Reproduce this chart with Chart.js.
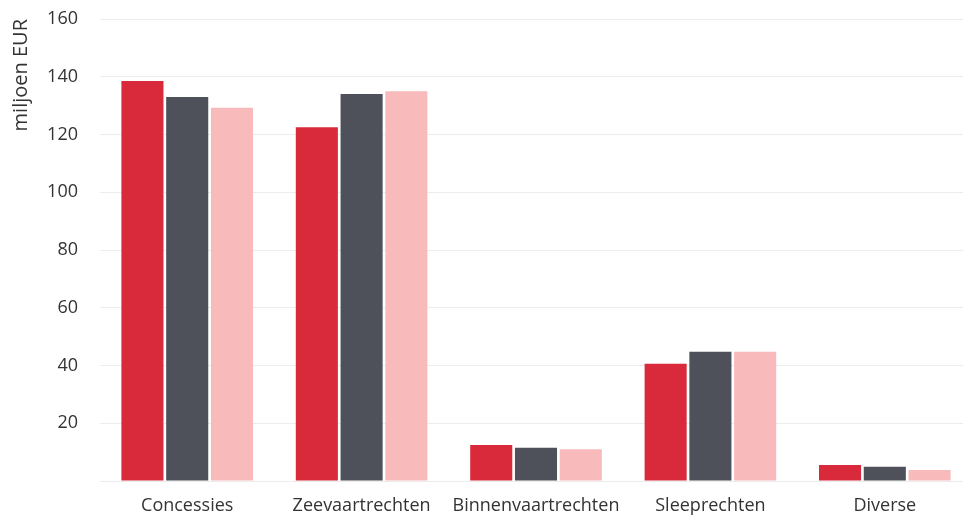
<!DOCTYPE html>
<html>
<head>
<meta charset="utf-8">
<script src="https://cdn.jsdelivr.net/npm/chart.js@4"></script>
<style>
  html, body { margin: 0; padding: 0; background: #ffffff; overflow: hidden; }
  #wrap { width: 972px; height: 517px; position: relative; }
</style>
</head>
<body>
<div id="wrap"><canvas id="c"></canvas></div>
<script>
const categories = ["Concessies", "Zeevaartrechten", "Binnenvaartrechten", "Sleeprechten", "Diverse"];
const series1 = [138.5, 122.5, 12.5, 40.6, 5.5];
const series2 = [133.0, 134.0, 11.5, 44.8, 4.9];
const series3 = [129.3, 135.0, 11.0, 44.8, 3.8];
const yTicks = [0, 20, 40, 60, 80, 100, 120, 140, 160];
const yTitle = "miljoen EUR";

const fontFam = "'Open Sans', Lato, 'Liberation Sans', sans-serif";

new Chart(document.getElementById('c'), {
  type: 'bar',
  data: {
    labels: categories,
    datasets: [
      { label: "1", data: series1, backgroundColor: '#d92a3c' },
      { label: "2", data: series2, backgroundColor: '#4e5159' },
      { label: "3", data: series3, backgroundColor: '#f9babc' }
    ]
  },
  options: {
    responsive: true,
    maintainAspectRatio: false,
    animation: false,
    layout: { padding: { top: 19, left: 9, right: 0, bottom: 0 } },
    plugins: { legend: { display: false }, tooltip: { enabled: false } },
    datasets: { bar: { categoryPercentage: 0.77, barPercentage: 0.94 } },
    scales: {
      x: {
        grid: { display: false, drawTicks: false },
        border: { display: false },
        afterFit: (s) => { s.paddingLeft = 0; s.paddingRight = 0; s.height = 36; },
        ticks: { color: '#333', font: { family: fontFam, size: 18 }, padding: 14,
                 maxRotation: 0, minRotation: 0, autoSkip: false }
      },
      y: {
        min: 0, max: 160,
        afterBuildTicks: (ax) => { ax.ticks = yTicks.map(v => ({ value: v })); },
        afterFit: (s) => { s.paddingTop = 0; s.paddingBottom = 0; s.width = 91; },
        grid: { color: '#ececec', drawTicks: false },
        border: { display: false },
        ticks: {
          color: '#333', font: { family: fontFam, size: 18 }, padding: 22,
          callback: (v) => v === 0 ? '' : v
        },
        title: {
          display: true, text: yTitle, align: 'end', color: '#333',
          font: { family: fontFam, size: 20 }, padding: { top: 0, bottom: 14 }
        }
      }
    }
  }
});
</script>
</body>
</html>
